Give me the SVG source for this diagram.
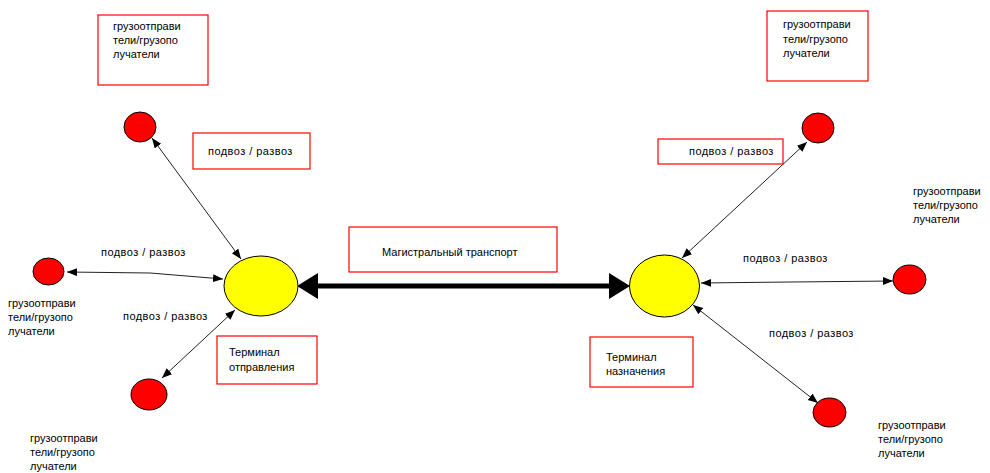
<svg xmlns="http://www.w3.org/2000/svg" width="990" height="473" viewBox="0 0 990 473">
<defs>
<style>
text{font-family:"Liberation Sans",Arial,sans-serif;font-size:11px;fill:#000}
.pr{letter-spacing:0.45px}
.box{fill:#fff;stroke:#f00;stroke-width:1.2}
.red{fill:#f00;stroke:#000;stroke-width:1}
.yel{fill:#ff0;stroke:#000;stroke-width:1}
.thin{stroke:#222;stroke-width:1;fill:none;marker-start:url(#ah);marker-end:url(#ah)}
.thick{stroke:#000;stroke-width:5;fill:none;marker-start:url(#bh);marker-end:url(#bh)}
</style>
<marker id="ah" markerUnits="userSpaceOnUse" markerWidth="11" markerHeight="9" refX="10" refY="4" orient="auto-start-reverse" viewBox="0 0 11 9">
<path d="M0,0 L10,4 L0,8 z" fill="#000"/>
</marker>
<marker id="bh" markerUnits="userSpaceOnUse" markerWidth="22" markerHeight="27" refX="16" refY="13" orient="auto-start-reverse" viewBox="0 0 22 27">
<path d="M0,0 L21,13 L0,26 z" fill="#000"/>
</marker>
</defs>
<rect width="990" height="473" fill="#fff"/>

<g id="connectors">
<line class="thin" x1="152" y1="138" x2="241" y2="259"/>
<polyline class="thin" points="67,272 150,273 223,279"/>
<line class="thin" x1="235" y1="310" x2="162" y2="378"/>
<line class="thin" x1="807" y1="142" x2="682" y2="258"/>
<polyline class="thin" points="701,283 790,282 893,281"/>
<line class="thin" x1="693" y1="305" x2="818" y2="403"/>
<line class="thick" x1="302" y1="286" x2="625" y2="286"/>
</g>

<g id="terminal-left"><ellipse class="yel" cx="261" cy="286" rx="37" ry="30"/></g>
<g id="terminal-right"><ellipse class="yel" cx="664.5" cy="286" rx="35" ry="31"/></g>

<g id="node-tl"><ellipse class="red" cx="140" cy="127" rx="16" ry="15"/></g>
<g id="node-l"><ellipse class="red" cx="48.5" cy="271.5" rx="15.5" ry="13.5"/></g>
<g id="node-bl"><ellipse class="red" cx="149" cy="394.5" rx="18" ry="15.5"/></g>
<g id="node-tr"><ellipse class="red" cx="818" cy="128" rx="16" ry="15"/></g>
<g id="node-r"><ellipse class="red" cx="909.5" cy="279.5" rx="16.5" ry="14.5"/></g>
<g id="node-br"><ellipse class="red" cx="829.5" cy="412.5" rx="16.5" ry="14.5"/></g>

<g id="label-tl-box">
<rect class="box" x="98" y="15" width="110" height="70"/>
<text x="113" y="30">грузоотправи</text>
<text x="113" y="44">тели/грузопо</text>
<text x="113" y="58">лучатели</text>
</g>
<g id="label-tr-box">
<rect class="box" x="767" y="11" width="101" height="70"/>
<text x="783" y="28">грузоотправи</text>
<text x="783" y="43">тели/грузопо</text>
<text x="783" y="57">лучатели</text>
</g>
<g id="label-l">
<text x="8" y="307">грузоотправи</text>
<text x="8" y="321">тели/грузопо</text>
<text x="8" y="335">лучатели</text>
</g>
<g id="label-bl">
<text x="30" y="442">грузоотправи</text>
<text x="30" y="456">тели/грузопо</text>
<text x="30" y="470">лучатели</text>
</g>
<g id="label-r">
<text x="913" y="195">грузоотправи</text>
<text x="913" y="209">тели/грузопо</text>
<text x="913" y="223">лучатели</text>
</g>
<g id="label-br">
<text x="878" y="429">грузоотправи</text>
<text x="878" y="443">тели/грузопо</text>
<text x="878" y="457">лучатели</text>
</g>

<g id="label-main">
<rect class="box" x="349" y="227" width="208" height="45"/>
<text x="382" y="256">Магистральный транспорт</text>
</g>
<g id="label-term-left">
<rect class="box" x="217" y="336" width="100" height="48"/>
<text x="229" y="356">Терминал</text>
<text x="229" y="371">отправления</text>
</g>
<g id="label-term-right">
<rect class="box" x="590" y="337" width="103" height="50"/>
<text x="606" y="361">Терминал</text>
<text x="606" y="375">назначения</text>
</g>

<g id="label-pr-1">
<rect class="box" x="193" y="133" width="117" height="36"/>
<text class="pr" x="208" y="155">подвоз / развоз</text>
</g>
<g id="label-pr-2"><text class="pr" x="101" y="256">подвоз / развоз</text></g>
<g id="label-pr-3"><text class="pr" x="123" y="320">подвоз / развоз</text></g>
<g id="label-pr-4">
<rect class="box" x="658" y="139" width="125" height="25"/>
<text class="pr" x="689" y="155">подвоз / развоз</text>
</g>
<g id="label-pr-5"><text class="pr" x="743" y="262">подвоз / развоз</text></g>
<g id="label-pr-6"><text class="pr" x="769" y="337">подвоз / развоз</text></g>
</svg>
